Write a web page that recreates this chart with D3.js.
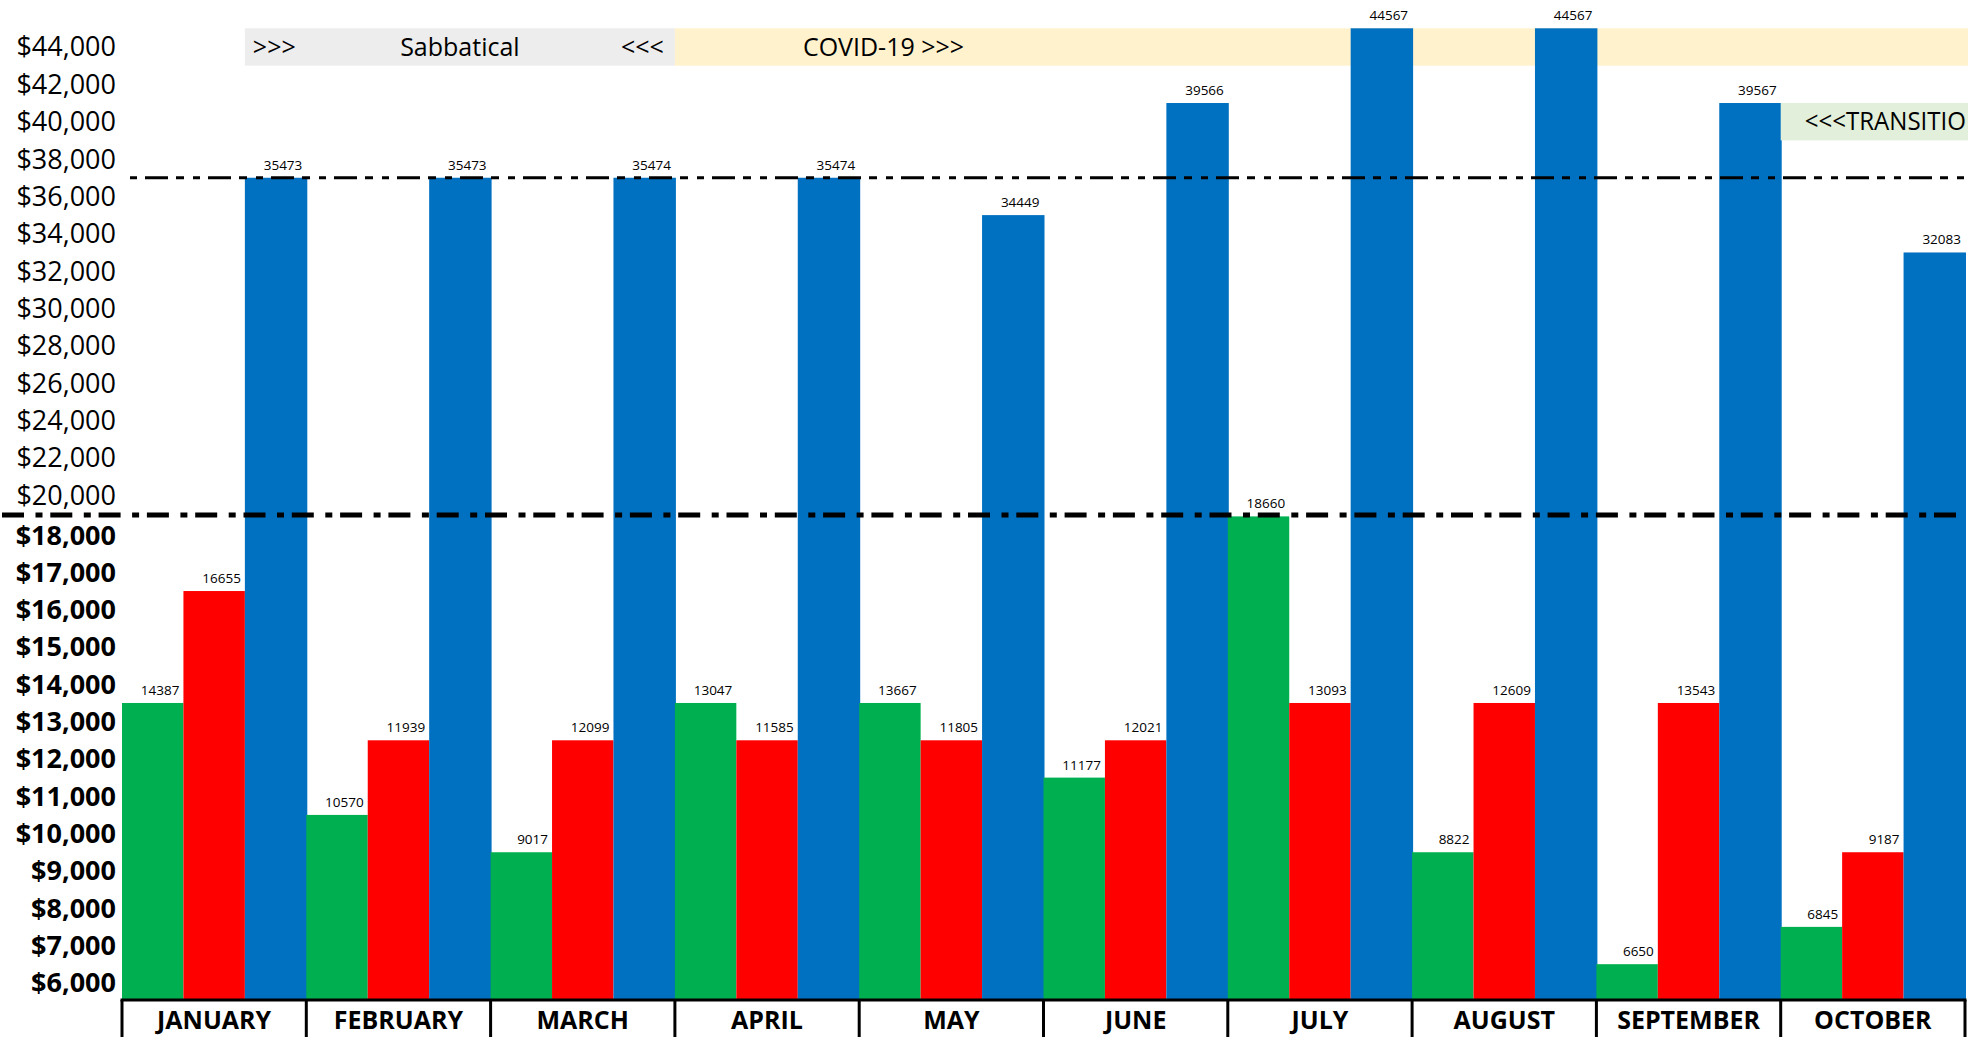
<!DOCTYPE html>
<head>
  <meta charset="utf-8">
  <script src="https://d3js.org/d3.v7.min.js"></script>
  <style>
  body,html {background:white; margin:0; overflow:hidden; font-family:"Open Sans", sans-serif;}
  .tick-up {font-size:27px; font-weight:400;}
  .tick-low {font-size:27px; font-weight:700;}
  .month {font-size:25px; font-weight:700;}
  .val {font-size:13.5px;}
  .band-text {font-size:25px;}
</style>
</head>
<body>
<svg id="chart"></svg>
<script>

  const months = ["JANUARY", "FEBRUARY", "MARCH", "APRIL", "MAY", "JUNE", "JULY", "AUGUST", "SEPTEMBER", "OCTOBER"];
  const greenValues = [14387, 10570, 9017, 13047, 13667, 11177, 18660, 8822, 6650, 6845];
  const redValues   = [16655, 11939, 12099, 11585, 11805, 12021, 13093, 12609, 13543, 9187];
  const blueValues  = [35473, 35473, 35474, 35474, 34449, 39566, 44567, 44567, 39567, 32083];

  // the sheet fills whole rows: the row each bar reaches up to
  const greenRows = [13000, 10000, 9000, 13000, 13000, 11000, 18000, 9000, 6000, 7000];
  const redRows   = [16000, 12000, 12000, 12000, 12000, 12000, 13000, 13000, 13000, 9000];
  const blueRows  = [36000, 36000, 36000, 36000, 34000, 40000, 44000, 44000, 40000, 32000];

  const upperTicks = [44000, 42000, 40000, 38000, 36000, 34000, 32000, 30000, 28000, 26000, 24000, 22000, 20000];
  const lowerTicks = [18000, 17000, 16000, 15000, 14000, 13000, 12000, 11000, 10000, 9000, 8000, 7000, 6000];
  const series = ["green", "red", "blue"];
  const colors = {green: "#00b050", red: "#ff0000", blue: "#0070c0"};

  const width = 1982, height = 1037;
  const left = 122, right = 1965, baseY = 1000;

  const svg = d3.select("#chart").attr("width", width).attr("height", height);

  const x = d3.scaleBand().domain(months).range([left, right]);
  const xs = d3.scaleBand().domain(series).range([0, x.bandwidth()]);
  const yUp = d3.scaleBand().domain(upperTicks).range([28.3, 514]);
  const yLow = d3.scaleBand().domain(lowerTicks).range([516.4, 1001.5]);
  const rowTop = v => yUp.domain().includes(v) ? yUp(v) : yLow(v);

  const fmt = d => "$" + d3.format(",")(d);

  const rows = months.map((m, i) => ({
    month: m,
    green: {v: greenValues[i], r: greenRows[i]},
    red:   {v: redValues[i],   r: redRows[i]},
    blue:  {v: blueValues[i],  r: blueRows[i]}
  }));

  // period bands in the top rows
  const bands = svg.append("g");
  const sabL = x("JANUARY") + xs("blue"), sabR = x("APRIL");
  bands.append("rect").attr("x", sabL).attr("y", yUp(44000)).attr("width", sabR - sabL)
    .attr("height", yUp.bandwidth()).attr("fill", "#ededed");
  bands.append("rect").attr("x", sabR).attr("y", yUp(44000)).attr("width", right + 3 - sabR)
    .attr("height", yUp.bandwidth()).attr("fill", "#fff2cc");

  // bars
  svg.append("g").selectAll("g")
    .data(rows)
    .join("g")
    .attr("transform", d => `translate(${x(d.month)},0)`)
    .each(function(d) {
      const g = d3.select(this);
      series.forEach(s => {
        const top = rowTop(d[s].r);
        g.append("rect")
          .attr("x", xs(s))
          .attr("y", top)
          .attr("width", xs.bandwidth() + (s === "blue" ? 1 : 0))
          .attr("height", baseY - top)
          .attr("fill", colors[s]);
        g.append("text")
          .attr("class", "val")
          .attr("x", xs(s) + xs.bandwidth() - 4)
          .attr("y", top - 8)
          .attr("text-anchor", "end")
          .text(d[s].v);
      });
    });

  // transition band (text runs to the band's edge, as in the sheet)
  const trL = x("OCTOBER");
  svg.append("rect").attr("x", trL).attr("y", yUp(40000)).attr("width", right + 3 - trL)
    .attr("height", yUp.bandwidth()).attr("fill", "#e2efda");
  svg.append("text").attr("class", "band-text")
    .attr("x", trL + 24).attr("y", yUp(40000) + yUp.bandwidth() / 2).attr("dy", "0.35em")
    .attr("textLength", right + 1 - (trL + 24)).attr("lengthAdjust", "spacingAndGlyphs")
    .text("<<<TRANSITIO");

  // band labels
  const midUp = yUp(44000) + yUp.bandwidth() / 2;
  bands.append("text").attr("class", "band-text").attr("x", sabL + 8).attr("y", midUp).attr("dy", "0.35em").text(">>>");
  bands.append("text").attr("class", "band-text").attr("x", (sabL + sabR) / 2).attr("y", midUp).attr("dy", "0.35em")
    .attr("text-anchor", "middle").text("Sabbatical");
  bands.append("text").attr("class", "band-text").attr("x", sabR - 11).attr("y", midUp).attr("dy", "0.35em")
    .attr("text-anchor", "end").text("<<<");
  bands.append("text").attr("class", "band-text").attr("x", sabR + 128).attr("y", midUp).attr("dy", "0.35em")
    .text("COVID-19 >>>");

  // y labels
  svg.append("g").selectAll("text").data(upperTicks).join("text")
    .attr("class", "tick-up").attr("x", 116).attr("y", d => yUp(d) + yUp.bandwidth() / 2).attr("dy", "0.35em")
    .attr("text-anchor", "end").text(fmt);
  svg.append("g").selectAll("text").data(lowerTicks).join("text")
    .attr("class", "tick-low").attr("x", 116).attr("y", d => yLow(d) + yLow.bandwidth() / 2).attr("dy", "0.35em")
    .attr("text-anchor", "end").text(fmt);

  // dash-dot reference lines
  svg.append("line").attr("x1", 130).attr("x2", right).attr("y1", yUp(36000)).attr("y2", yUp(36000))
    .attr("stroke", "#000").attr("stroke-width", 3)
    .attr("stroke-dasharray", "23,8,8,9,7,8").attr("stroke-dashoffset", 48);
  svg.append("line").attr("x1", 2).attr("x2", right).attr("y1", 515).attr("y2", 515)
    .attr("stroke", "#000").attr("stroke-width", 5)
    .attr("stroke-dasharray", "22,11.5,7,7.8");

  // month axis
  const ax = svg.append("g");
  ax.append("line").attr("x1", left - 1.5).attr("x2", right + 1.5).attr("y1", baseY).attr("y2", baseY)
    .attr("stroke", "#000").attr("stroke-width", 3);
  ax.selectAll(".sep").data(months.concat(["END"])).join("line")
    .attr("x1", d => d === "END" ? right : x(d)).attr("x2", d => d === "END" ? right : x(d))
    .attr("y1", baseY).attr("y2", height)
    .attr("stroke", "#000").attr("stroke-width", 3);
  ax.selectAll(".month").data(months).join("text")
    .attr("class", "month").attr("x", d => x(d) + x.bandwidth() / 2).attr("y", 1029)
    .attr("text-anchor", "middle").text(d => d);

</script>
</body>
